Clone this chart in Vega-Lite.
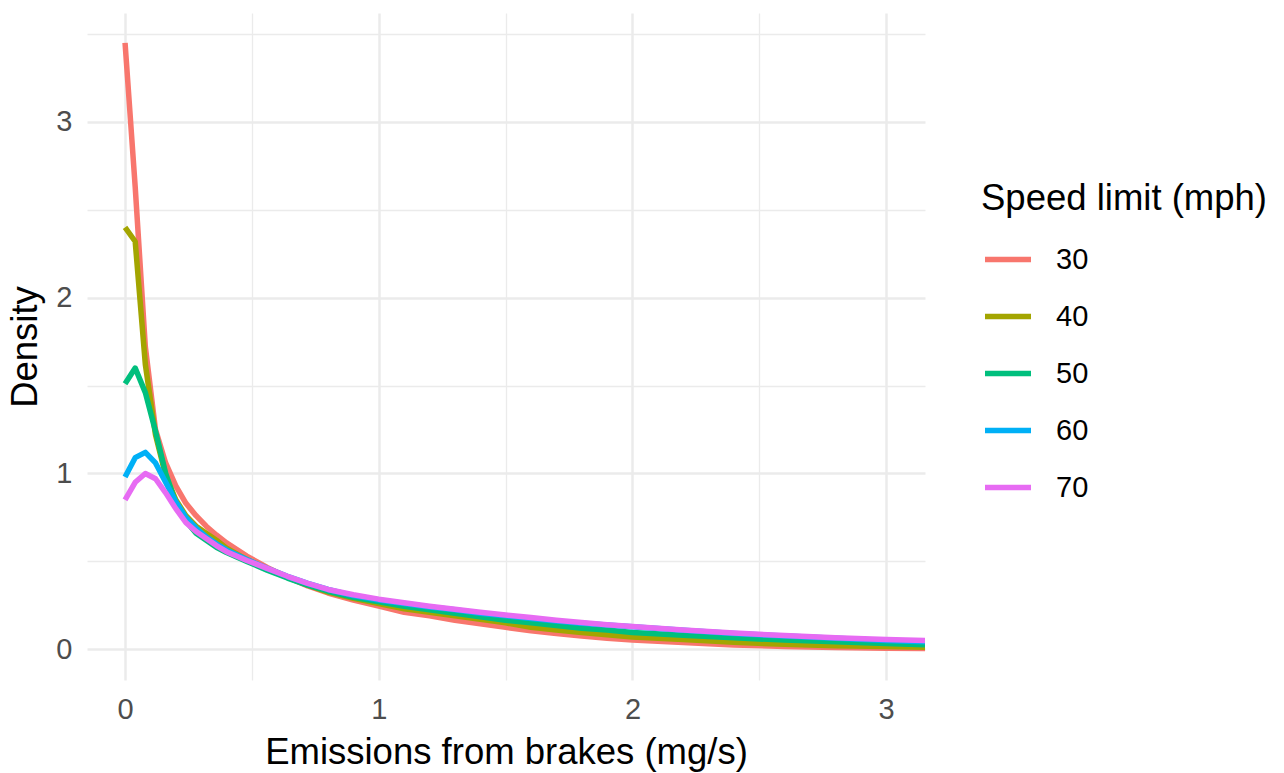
{
  "$schema": "https://vega.github.io/schema/vega-lite/v6.json",
  "autosize": "none",
  "width": 838,
  "height": 667,
  "padding": {"left": 87, "top": 13, "right": 359, "bottom": 93},
  "background": "white",
  "config": {
    "font": "Liberation Sans",
    "view": {"stroke": null},
    "axis": {
      "domain": false,
      "ticks": false,
      "gridColor": "#EBEBEB",
      "labelFont": "Liberation Sans",
      "titleFont": "Liberation Sans",
      "labelFontSize": 29,
      "labelColor": "#4D4D4D",
      "titleFontSize": 36.5,
      "titleFontWeight": "normal",
      "titleColor": "black"
    },
    "legend": {
      "labelFont": "Liberation Sans",
      "titleFont": "Liberation Sans"
    }
  },
  "data": {
    "values": [
      {"x": 0, "s": "30", "d": 3.45}, {"x": 0.04, "s": "30", "d": 2.63}, {"x": 0.08, "s": "30", "d": 1.72}, {"x": 0.12, "s": "30", "d": 1.25},
      {"x": 0.16, "s": "30", "d": 1.06}, {"x": 0.2, "s": "30", "d": 0.93}, {"x": 0.24, "s": "30", "d": 0.83}, {"x": 0.28, "s": "30", "d": 0.76},
      {"x": 0.32, "s": "30", "d": 0.7}, {"x": 0.36, "s": "30", "d": 0.65}, {"x": 0.4, "s": "30", "d": 0.605}, {"x": 0.48, "s": "30", "d": 0.53},
      {"x": 0.56, "s": "30", "d": 0.465}, {"x": 0.64, "s": "30", "d": 0.41}, {"x": 0.72, "s": "30", "d": 0.36}, {"x": 0.8, "s": "30", "d": 0.32},
      {"x": 0.9, "s": "30", "d": 0.28}, {"x": 1.0, "s": "30", "d": 0.245}, {"x": 1.1, "s": "30", "d": 0.21}, {"x": 1.2, "s": "30", "d": 0.19},
      {"x": 1.3, "s": "30", "d": 0.165}, {"x": 1.4, "s": "30", "d": 0.145}, {"x": 1.5, "s": "30", "d": 0.125}, {"x": 1.6, "s": "30", "d": 0.105},
      {"x": 1.7, "s": "30", "d": 0.09}, {"x": 1.8, "s": "30", "d": 0.075}, {"x": 1.9, "s": "30", "d": 0.062}, {"x": 2.0, "s": "30", "d": 0.052},
      {"x": 2.2, "s": "30", "d": 0.038}, {"x": 2.4, "s": "30", "d": 0.024}, {"x": 2.6, "s": "30", "d": 0.016}, {"x": 2.8, "s": "30", "d": 0.01},
      {"x": 3.0, "s": "30", "d": 0.006}, {"x": 3.153, "s": "30", "d": 0.004},

      {"x": 0, "s": "40", "d": 2.4}, {"x": 0.04, "s": "40", "d": 2.32}, {"x": 0.08, "s": "40", "d": 1.62}, {"x": 0.12, "s": "40", "d": 1.22},
      {"x": 0.16, "s": "40", "d": 0.99}, {"x": 0.2, "s": "40", "d": 0.85}, {"x": 0.24, "s": "40", "d": 0.76}, {"x": 0.28, "s": "40", "d": 0.7},
      {"x": 0.32, "s": "40", "d": 0.66}, {"x": 0.36, "s": "40", "d": 0.62}, {"x": 0.4, "s": "40", "d": 0.575}, {"x": 0.48, "s": "40", "d": 0.51},
      {"x": 0.56, "s": "40", "d": 0.455}, {"x": 0.64, "s": "40", "d": 0.41}, {"x": 0.72, "s": "40", "d": 0.365}, {"x": 0.8, "s": "40", "d": 0.325},
      {"x": 0.9, "s": "40", "d": 0.29}, {"x": 1.0, "s": "40", "d": 0.26}, {"x": 1.1, "s": "40", "d": 0.23}, {"x": 1.2, "s": "40", "d": 0.21},
      {"x": 1.3, "s": "40", "d": 0.19}, {"x": 1.4, "s": "40", "d": 0.17}, {"x": 1.5, "s": "40", "d": 0.15}, {"x": 1.6, "s": "40", "d": 0.125},
      {"x": 1.7, "s": "40", "d": 0.11}, {"x": 1.8, "s": "40", "d": 0.095}, {"x": 1.9, "s": "40", "d": 0.082}, {"x": 2.0, "s": "40", "d": 0.07},
      {"x": 2.2, "s": "40", "d": 0.055}, {"x": 2.4, "s": "40", "d": 0.04}, {"x": 2.6, "s": "40", "d": 0.028}, {"x": 2.8, "s": "40", "d": 0.02},
      {"x": 3.0, "s": "40", "d": 0.015}, {"x": 3.153, "s": "40", "d": 0.012},

      {"x": 0, "s": "50", "d": 1.51}, {"x": 0.04, "s": "50", "d": 1.6}, {"x": 0.08, "s": "50", "d": 1.46}, {"x": 0.12, "s": "50", "d": 1.24},
      {"x": 0.16, "s": "50", "d": 1.0}, {"x": 0.2, "s": "50", "d": 0.83}, {"x": 0.24, "s": "50", "d": 0.73}, {"x": 0.28, "s": "50", "d": 0.66},
      {"x": 0.32, "s": "50", "d": 0.62}, {"x": 0.36, "s": "50", "d": 0.58}, {"x": 0.4, "s": "50", "d": 0.55}, {"x": 0.48, "s": "50", "d": 0.5},
      {"x": 0.56, "s": "50", "d": 0.45}, {"x": 0.64, "s": "50", "d": 0.405}, {"x": 0.72, "s": "50", "d": 0.365}, {"x": 0.8, "s": "50", "d": 0.33},
      {"x": 0.9, "s": "50", "d": 0.295}, {"x": 1.0, "s": "50", "d": 0.27}, {"x": 1.1, "s": "50", "d": 0.245}, {"x": 1.2, "s": "50", "d": 0.225},
      {"x": 1.3, "s": "50", "d": 0.205}, {"x": 1.4, "s": "50", "d": 0.185}, {"x": 1.5, "s": "50", "d": 0.165}, {"x": 1.6, "s": "50", "d": 0.15},
      {"x": 1.7, "s": "50", "d": 0.135}, {"x": 1.8, "s": "50", "d": 0.12}, {"x": 1.9, "s": "50", "d": 0.11}, {"x": 2.0, "s": "50", "d": 0.095},
      {"x": 2.2, "s": "50", "d": 0.08}, {"x": 2.4, "s": "50", "d": 0.065}, {"x": 2.6, "s": "50", "d": 0.052}, {"x": 2.8, "s": "50", "d": 0.042},
      {"x": 3.0, "s": "50", "d": 0.032}, {"x": 3.153, "s": "50", "d": 0.025},

      {"x": 0, "s": "60", "d": 0.98}, {"x": 0.04, "s": "60", "d": 1.09}, {"x": 0.08, "s": "60", "d": 1.12}, {"x": 0.12, "s": "60", "d": 1.06},
      {"x": 0.16, "s": "60", "d": 0.95}, {"x": 0.2, "s": "60", "d": 0.84}, {"x": 0.24, "s": "60", "d": 0.75}, {"x": 0.28, "s": "60", "d": 0.69},
      {"x": 0.32, "s": "60", "d": 0.64}, {"x": 0.36, "s": "60", "d": 0.6}, {"x": 0.4, "s": "60", "d": 0.565}, {"x": 0.48, "s": "60", "d": 0.51},
      {"x": 0.56, "s": "60", "d": 0.46}, {"x": 0.64, "s": "60", "d": 0.415}, {"x": 0.72, "s": "60", "d": 0.375}, {"x": 0.8, "s": "60", "d": 0.34},
      {"x": 0.9, "s": "60", "d": 0.305}, {"x": 1.0, "s": "60", "d": 0.28}, {"x": 1.1, "s": "60", "d": 0.26}, {"x": 1.2, "s": "60", "d": 0.24},
      {"x": 1.3, "s": "60", "d": 0.225}, {"x": 1.4, "s": "60", "d": 0.205}, {"x": 1.5, "s": "60", "d": 0.19}, {"x": 1.6, "s": "60", "d": 0.175},
      {"x": 1.7, "s": "60", "d": 0.16}, {"x": 1.8, "s": "60", "d": 0.148}, {"x": 1.9, "s": "60", "d": 0.138}, {"x": 2.0, "s": "60", "d": 0.128},
      {"x": 2.2, "s": "60", "d": 0.108}, {"x": 2.4, "s": "60", "d": 0.09}, {"x": 2.6, "s": "60", "d": 0.075}, {"x": 2.8, "s": "60", "d": 0.062},
      {"x": 3.0, "s": "60", "d": 0.05}, {"x": 3.153, "s": "60", "d": 0.042},

      {"x": 0, "s": "70", "d": 0.85}, {"x": 0.04, "s": "70", "d": 0.95}, {"x": 0.08, "s": "70", "d": 1.0}, {"x": 0.12, "s": "70", "d": 0.97},
      {"x": 0.16, "s": "70", "d": 0.89}, {"x": 0.2, "s": "70", "d": 0.8}, {"x": 0.24, "s": "70", "d": 0.72}, {"x": 0.28, "s": "70", "d": 0.67},
      {"x": 0.32, "s": "70", "d": 0.63}, {"x": 0.36, "s": "70", "d": 0.59}, {"x": 0.4, "s": "70", "d": 0.555}, {"x": 0.48, "s": "70", "d": 0.505},
      {"x": 0.56, "s": "70", "d": 0.46}, {"x": 0.64, "s": "70", "d": 0.415}, {"x": 0.72, "s": "70", "d": 0.375}, {"x": 0.8, "s": "70", "d": 0.34},
      {"x": 0.9, "s": "70", "d": 0.31}, {"x": 1.0, "s": "70", "d": 0.285}, {"x": 1.1, "s": "70", "d": 0.265}, {"x": 1.2, "s": "70", "d": 0.245},
      {"x": 1.3, "s": "70", "d": 0.228}, {"x": 1.4, "s": "70", "d": 0.21}, {"x": 1.5, "s": "70", "d": 0.195}, {"x": 1.6, "s": "70", "d": 0.18},
      {"x": 1.7, "s": "70", "d": 0.165}, {"x": 1.8, "s": "70", "d": 0.152}, {"x": 1.9, "s": "70", "d": 0.14}, {"x": 2.0, "s": "70", "d": 0.13},
      {"x": 2.2, "s": "70", "d": 0.11}, {"x": 2.4, "s": "70", "d": 0.092}, {"x": 2.6, "s": "70", "d": 0.078}, {"x": 2.8, "s": "70", "d": 0.066},
      {"x": 3.0, "s": "70", "d": 0.056}, {"x": 3.153, "s": "70", "d": 0.05}
    ]
  },
  "mark": {"type": "line", "strokeWidth": 5.5, "clip": true, "strokeJoin": "round", "strokeCap": "butt"},
  "encoding": {
    "x": {
      "field": "x",
      "type": "quantitative",
      "scale": {"domain": [-0.15, 3.153], "nice": false, "zero": false},
      "axis": {
        "title": "Emissions from brakes (mg/s)",
        "values": [0, 0.5, 1, 1.5, 2, 2.5, 3],
        "labelExpr": "datum.value % 1 === 0 ? format(datum.value, 'd') : ''",
        "gridWidth": {"condition": {"test": "datum.value % 1 === 0", "value": 2.5}, "value": 1.3},
        "labelPadding": 15,
        "titlePadding": 10,
        "labelFlush": false,
        "labelOverlap": false
      }
    },
    "y": {
      "field": "d",
      "type": "quantitative",
      "scale": {"domain": [-0.175, 3.62], "nice": false, "zero": false},
      "axis": {
        "title": "Density",
        "values": [0, 0.5, 1, 1.5, 2, 2.5, 3, 3.5],
        "labelExpr": "datum.value % 1 === 0 ? format(datum.value, 'd') : ''",
        "gridWidth": {"condition": {"test": "datum.value % 1 === 0", "value": 2.5}, "value": 1.3},
        "labelPadding": 15,
        "titleX": -51,
        "titleBaseline": "alphabetic",
        "labelFlush": false,
        "labelOverlap": false
      }
    },
    "color": {
      "field": "s",
      "type": "nominal",
      "scale": {
        "domain": ["30", "40", "50", "60", "70"],
        "range": ["#F8766D", "#A3A500", "#00BF7D", "#00B0F6", "#E76BF3"]
      },
      "legend": {
        "title": "Speed limit (mph)",
        "orient": "none",
        "legendX": 894,
        "legendY": 168,
        "padding": 0,
        "titleFontSize": 36.5,
        "titleFontWeight": "normal",
        "titleColor": "black",
        "titleLimit": 400,
        "titlePadding": 16,
        "labelFontSize": 29,
        "labelColor": "black",
        "labelOffset": 22,
        "labelLimit": 200,
        "symbolType": "stroke",
        "symbolSize": 2116,
        "symbolStrokeWidth": 5.5,
        "symbolOffset": 1,
        "rowPadding": 16
      }
    }
  }
}
